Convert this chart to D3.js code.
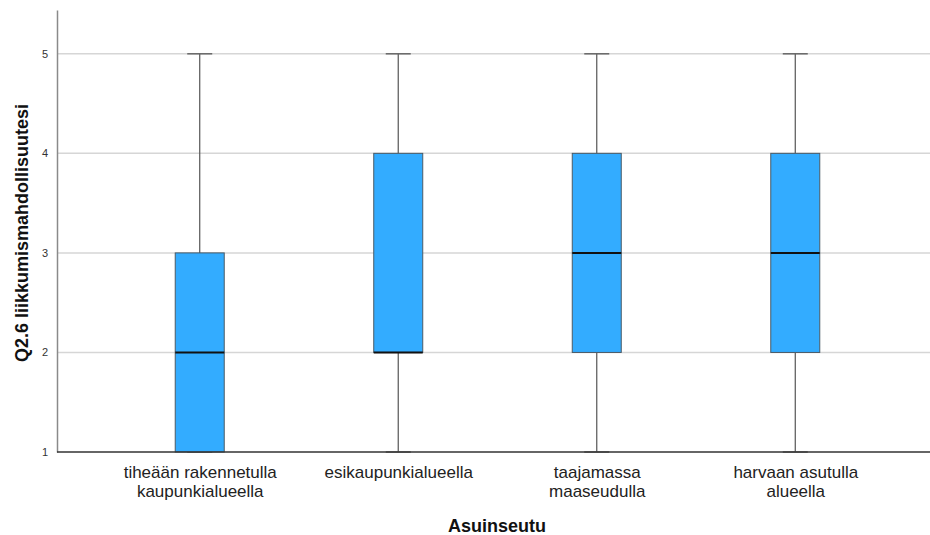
<!DOCTYPE html>
<html><head><meta charset="utf-8">
<script src="https://cdn.jsdelivr.net/npm/d3@7"></script>
<style>body{margin:0;background:#fff}svg{display:block;font-family:"Liberation Sans",Arial,sans-serif}</style>
</head><body><svg id="c" width="930" height="535"></svg>
<script>
const categories = ["tiheään rakennetulla\nkaupunkialueella","esikaupunkialueella","taajamassa\nmaaseudulla","harvaan asutulla\nalueella"];
const whiskerLow = [1,1,1,1];
const q1 = [1,2,2,2];
const median = [2,2,3,3];
const q3 = [3,4,4,4];
const whiskerHigh = [5,5,5,5];
const yTicks = [1,2,3,4,5];
const xTitle = "Asuinseutu";
const yTitle = "Q2.6 liikkumismahdollisuutesi";

const svg = d3.select("#c");
const x = d3.scalePoint().domain(categories).range([57,938]).padding(0.719);
const y = d3.scaleLinear().domain([1,5.44]).range([452,10]);

// gridlines
svg.append("g").selectAll("line").data(yTicks.filter(t=>t>1)).join("line")
  .attr("x1",57).attr("x2",930).attr("y1",d=>y(d)).attr("y2",d=>y(d))
  .attr("stroke","#d6d6d6").attr("stroke-width",1.5);

const data = categories.map((c,i)=>({c,lo:whiskerLow[i],q1:q1[i],med:median[i],q3:q3[i],hi:whiskerHigh[i]}));
const bw = 49, cw = 25;
const g = svg.append("g").selectAll("g").data(data).join("g");
// whiskers
g.append("line").attr("x1",d=>x(d.c)).attr("x2",d=>x(d.c)).attr("y1",d=>y(d.q3)).attr("y2",d=>y(d.hi)).attr("stroke","#555").attr("stroke-width",1.2);
g.append("line").attr("x1",d=>x(d.c)).attr("x2",d=>x(d.c)).attr("y1",d=>y(d.lo)).attr("y2",d=>y(d.q1)).attr("stroke","#555").attr("stroke-width",1.2);
g.append("line").attr("x1",d=>x(d.c)-cw/2).attr("x2",d=>x(d.c)+cw/2).attr("y1",d=>y(d.hi)).attr("y2",d=>y(d.hi)).attr("stroke","#666").attr("stroke-width",1.5);
g.append("line").attr("x1",d=>x(d.c)-cw/2).attr("x2",d=>x(d.c)+cw/2).attr("y1",d=>y(d.lo)).attr("y2",d=>y(d.lo)).attr("stroke","#666").attr("stroke-width",1.5);
// box
g.append("rect").attr("x",d=>x(d.c)-bw/2).attr("width",bw).attr("y",d=>y(d.q3)).attr("height",d=>y(d.q1)-y(d.q3))
  .attr("fill","#33acff").attr("stroke","#4a5a66").attr("stroke-width",1);
// median
g.append("line").attr("x1",d=>x(d.c)-bw/2).attr("x2",d=>x(d.c)+bw/2).attr("y1",d=>y(d.med)).attr("y2",d=>y(d.med)).attr("stroke","#111").attr("stroke-width",2);

// axes
const ya = d3.axisLeft(y).tickValues(yTicks).tickSize(0).tickPadding(9).tickFormat(d3.format("d"));
const yg = svg.append("g").attr("transform","translate(57,0)").call(ya);
yg.select(".domain").attr("stroke","#8a8a8a").attr("stroke-width",1.5);
yg.selectAll("text").attr("font-size",11).attr("fill","#333").attr("font-family","Liberation Sans, Arial, sans-serif");

const xa = d3.axisBottom(x).tickSize(0).tickFormat("");
const xg = svg.append("g").attr("transform","translate(0,452)").call(xa);
xg.select(".domain").attr("d","M57,0H930").attr("stroke","#333").attr("stroke-width",1.3);
xg.selectAll(".tick").each(function(d){
  const lines = d.split("\n");
  const t = d3.select(this).append("text").attr("text-anchor","middle").attr("fill","#222")
    .attr("font-size",17).attr("font-family","Liberation Sans, Arial, sans-serif");
  lines.forEach((l,i)=>t.append("tspan").attr("x",0).attr("y",26+i*19).text(l));
});

svg.append("text").attr("x",497).attr("y",532).attr("text-anchor","middle").attr("font-weight","bold").attr("font-size",18).attr("fill","#111").text(xTitle);
svg.append("text").attr("transform","translate(28,233) rotate(-90)").attr("text-anchor","middle").attr("font-weight","bold").attr("font-size",18).attr("fill","#111").text(yTitle);
</script></body></html>
